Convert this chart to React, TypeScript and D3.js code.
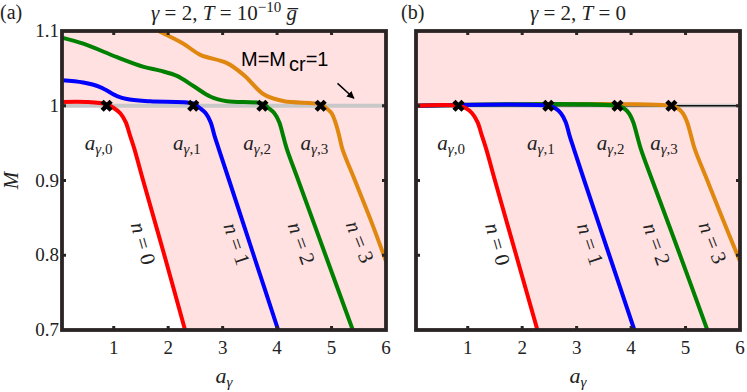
import React from 'react'
import * as d3 from 'd3'

type Pt = [number, number]

const W = 747
const H = 392

// axis ticks
const xTicks = [1, 2, 3, 4, 5, 6]
const yTicks = [0.7, 0.8, 0.9, 1, 1.1]
const nValues = [0, 1, 2, 3]
const colors = ['#ff0000', '#0000ff', '#008000', '#e0870f']

// panel (a): gamma = 2, T = 1e-10 gbar  (a_gamma, M)
const redA: Pt[] = [[0.05, 1.005], [0.5, 1.005], [0.87, 1.002], [1.0, 0.997], [1.12, 0.99], [1.22, 0.978], [1.3, 0.96], [1.38, 0.942], [1.54, 0.9], [1.93, 0.8], [2.31, 0.7]]
const blueA: Pt[] = [[0.05, 1.034], [0.44, 1.031], [0.75, 1.025], [1.06, 1.013], [1.24, 1.009], [1.67, 1.006], [2.46, 1.003], [2.58, 0.997], [2.69, 0.99], [2.78, 0.978], [2.85, 0.96], [2.93, 0.942], [3.12, 0.9], [3.57, 0.8], [4.02, 0.7]]
const greenA: Pt[] = [[0.05, 1.091], [0.44, 1.083], [1.06, 1.065], [1.55, 1.052], [1.85, 1.047], [2.16, 1.04], [2.47, 1.026], [2.78, 1.012], [3.08, 1.006], [3.73, 1.003], [3.84, 0.997], [3.95, 0.99], [4.04, 0.978], [4.11, 0.96], [4.18, 0.942], [4.39, 0.9], [4.89, 0.8], [5.39, 0.7]]
const orangeA: Pt[] = [[1.82, 1.1], [2.28, 1.083], [2.59, 1.068], [3.08, 1.057], [3.39, 1.041], [3.76, 1.015], [4.13, 1.006], [4.8, 1.002], [4.9, 0.997], [5.0, 0.99], [5.07, 0.978], [5.14, 0.96], [5.2, 0.942], [5.43, 0.9], [5.72, 0.847], [6.0, 0.792]]
const marksA = [0.87, 2.46, 3.73, 4.8]

// panel (b): gamma = 2, T = 0
const redB: Pt[] = [[0.05, 1], [0.83, 1], [0.96, 0.997], [1.08, 0.99], [1.18, 0.978], [1.26, 0.96], [1.34, 0.942], [1.5, 0.9], [1.89, 0.8], [2.28, 0.7]]
const blueB: Pt[] = [[0.05, 1], [2.48, 1], [2.6, 0.997], [2.71, 0.99], [2.8, 0.978], [2.87, 0.96], [2.95, 0.942], [3.14, 0.9], [3.6, 0.8], [4.06, 0.7]]
const greenB: Pt[] = [[0.05, 1], [3.75, 1], [3.86, 0.997], [3.96, 0.99], [4.04, 0.978], [4.11, 0.96], [4.18, 0.942], [4.39, 0.9], [4.9, 0.8], [5.4, 0.7]]
const orangeB: Pt[] = [[0.05, 1], [4.74, 1], [4.85, 0.997], [4.95, 0.99], [5.03, 0.978], [5.1, 0.96], [5.17, 0.942], [5.4, 0.9], [5.69, 0.847], [6.0, 0.792]]
const marksB = [0.83, 2.48, 3.75, 4.74]

// label spots (data coords)
const aLabelA = [0.47, 2.09, 3.38, 4.43]
const aLabelB = [0.44, 2.09, 3.37, 4.35]
const nLabelA: Pt[] = [[1.54, 0.816], [3.26, 0.815], [4.45, 0.816], [5.52, 0.818]]
const nLabelB: Pt[] = [[1.55, 0.815], [3.25, 0.815], [4.47, 0.815], [5.5, 0.817]]
const nAngles = [74, 71.5, 70, 68.5]

const serif = "'Liberation Serif', 'DejaVu Serif', serif"
const frame = '#2b2424'
const TOP = 31
const BOTTOM = 330

function Panel(props: any) {
  const { left, right, series, marks, aLabels, nLabels, id, tdT } = props
  const x = d3.scaleLinear().domain([0.05, 6]).range([left, right])
  const y = d3.scaleLinear().domain([0.7, 1.1]).range([BOTTOM, TOP])
  const line = d3.line<Pt>().x(d => x(d[0])).y(d => y(d[1])).curve(d3.curveCatmullRom.alpha(0.5))

  // white region: below M=1, left of the n=0 curve
  const redDrop = series[0].filter((d: Pt) => d[0] >= marks[0])
  const white = line([[marks[0], 1], ...redDrop.slice(1)]) +
    `L${x(0.05)},${y(0.7)}L${x(0.05)},${y(1)}Z`

  const order = [3, 2, 1, 0]
  return (
    <g>
      <defs>
        <clipPath id={'clip' + id}>
          <rect x={left} y={TOP} width={right - left} height={BOTTOM - TOP} />
        </clipPath>
      </defs>
      <rect x={left} y={TOP} width={right - left} height={BOTTOM - TOP} fill="#ffe1e1" />
      <path d={white} fill="#ffffff" />
      <g clipPath={`url(#clip${id})`}>
        <line x1={left} x2={right} y1={y(1)} y2={y(1)} stroke="#c8c8c8" strokeWidth={4} />
        {tdT && <line x1={left} x2={right} y1={y(1)} y2={y(1)} stroke="#111" strokeWidth={1.3} />}
        {order.map(i => (
          <path key={i} d={line(series[i]) as string} fill="none" stroke={colors[i]} strokeWidth={4} />
        ))}
        {marks.map((m: number, i: number) => (
          <path key={i} d={`M${x(m) - 4.5},${y(1) - 4.5}L${x(m) + 4.5},${y(1) + 4.5}M${x(m) - 4.5},${y(1) + 4.5}L${x(m) + 4.5},${y(1) - 4.5}`}
            stroke="#000" strokeWidth={4.5} />
        ))}
      </g>

      {/* ticks, inward on all four sides */}
      {xTicks.slice(0, 5).map(t => (
        <g key={t}>
          <line x1={x(t)} x2={x(t)} y1={BOTTOM} y2={BOTTOM - 4} stroke={frame} strokeWidth={3} />
          <line x1={x(t)} x2={x(t)} y1={TOP} y2={TOP + 4} stroke={frame} strokeWidth={3} />
        </g>
      ))}
      {yTicks.slice(1, 4).map(t => (
        <g key={t}>
          <line x1={left} x2={left + 4} y1={y(t)} y2={y(t)} stroke={frame} strokeWidth={3} />
          <line x1={right} x2={right - 4} y1={y(t)} y2={y(t)} stroke={frame} strokeWidth={3} />
        </g>
      ))}
      <rect x={left} y={TOP} width={right - left} height={BOTTOM - TOP} fill="none" stroke={frame} strokeWidth={3.8} />

      {xTicks.map(t => (
        <text key={t} x={x(t)} y={354} textAnchor="middle" fontFamily={serif} fontSize={19} fill="#222">{t}</text>
      ))}
      <text x={(left + right) / 2} y={383} textAnchor="middle" fontFamily={serif} fontSize={22} fill="#222">
        <tspan fontStyle="italic">a</tspan>
        <tspan fontStyle="italic" fontSize={15} dy={4}>γ</tspan>
      </text>

      {aLabels.map((a: number, i: number) => (
        <text key={i} x={x(a)} y={y(0.941)} fontFamily={serif} fontSize={21} fill="#222">
          <tspan fontStyle="italic">a</tspan>
          <tspan fontSize={15} dy={4}><tspan fontStyle="italic">γ</tspan>,{nValues[i]}</tspan>
        </text>
      ))}
      {nLabels.map((p: Pt, i: number) => (
        <text key={i} transform={`translate(${x(p[0])},${y(p[1])}) rotate(${nAngles[i]})`} textAnchor="middle"
          dy={7} fontFamily={serif} fontSize={21} fill="#222">
          <tspan fontStyle="italic">n</tspan> = {nValues[i]}
        </text>
      ))}
    </g>
  )
}

export default function App() {
  const xa = d3.scaleLinear().domain([0.05, 6]).range([62, 386])
  const ya = d3.scaleLinear().domain([0.7, 1.1]).range([BOTTOM, TOP])
  return (
    <svg width={W} height={H} style={{ position: 'absolute', left: 0, top: 0, background: '#fff' }}>
      <defs>
        <marker id="arrowhead" viewBox="0 0 10 10" refX={9} refY={5} markerWidth={5} markerHeight={5} orient="auto">
          <path d="M0,0L10,5L0,10Z" fill="#000" />
        </marker>
      </defs>
      <text x={0} y={19} fontFamily={serif} fontSize={20} fill="#222">(a)</text>
      <text x={401} y={19} fontFamily={serif} fontSize={20} fill="#222">(b)</text>
      <text x={224} y={20} textAnchor="middle" fontFamily={serif} fontSize={21} fill="#222">
        <tspan fontStyle="italic">γ</tspan> = 2, <tspan fontStyle="italic">T</tspan> = 10
        <tspan fontSize={15} dy={-8}>−10</tspan>
        <tspan fontStyle="italic" dy={8}> g̅</tspan>
      </text>
      <text x={578} y={20} textAnchor="middle" fontFamily={serif} fontSize={21} fill="#222">
        <tspan fontStyle="italic">γ</tspan> = 2, <tspan fontStyle="italic">T</tspan> = 0
      </text>

      <Panel id="a" left={62} right={386} series={[redA, blueA, greenA, orangeA]} marks={marksA}
        aLabels={aLabelA} nLabels={nLabelA} />
      <Panel id="b" left={416} right={740} series={[redB, blueB, greenB, orangeB]} marks={marksB}
        aLabels={aLabelB} nLabels={nLabelB} tdT />

      {yTicks.map(t => (
        <text key={t} x={59} y={ya(t) + 6} textAnchor="end" fontFamily={serif} fontSize={19} fill="#222">{t}</text>
      ))}
      <text transform={`translate(18,${ya(0.9)}) rotate(-90)`} textAnchor="middle" fontFamily={serif}
        fontStyle="italic" fontSize={21} fill="#222">M</text>

      <text x={241} y={66} fontFamily="'Liberation Sans', Arial, sans-serif" fontSize={20} fill="#000">
        M=M<tspan dx={3} dy={5}>cr</tspan><tspan dy={-5}>=1</tspan>
      </text>
      <line x1={xa(5.11)} y1={ya(1.03)} x2={xa(5.41)} y2={ya(1.01)} stroke="#000" strokeWidth={1.5} markerEnd="url(#arrowhead)" />
    </svg>
  )
}
